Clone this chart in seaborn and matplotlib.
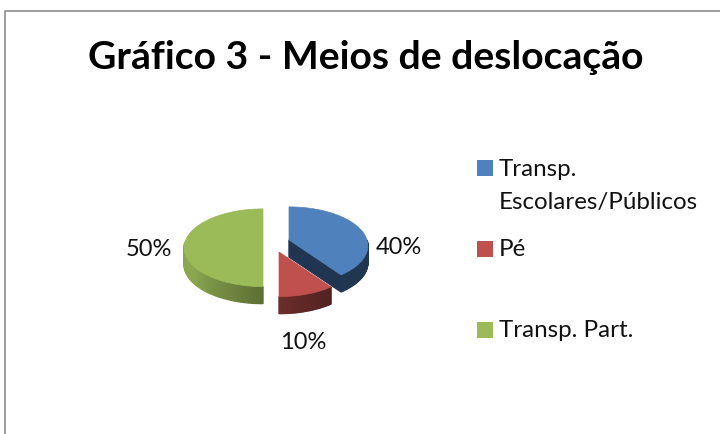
#!/usr/bin/env python3
# Gráfico 3 - pie with fake 3D look, in pixel coordinates of the picture
import numpy as np
import seaborn as sns
import matplotlib.pyplot as plt
from matplotlib.colors import to_rgb

TITLE = "Gráfico 3 - Meios de deslocação"
categories = ["Transp.\nEscolares/Públicos", "Pé", "Transp. Part."]
shares = [40, 10, 50]
share_labels = ["40%", "10%", "50%"]
colors = ["#4f81bd", "#c0504d", "#9bbb59"]

# where each exploded slice sits and where its label goes
centers = [(289, 240), (279, 252), (263, 242)]
label_pos = [(399, 254), (303.5, 349), (149, 256)]
legend_y = [168, 248.5, 329.5]
legend_base = [176, 256, 337]

RX, RY = 78, 38      # pie radii
PERSP = 0.148        # front of the pie looks bigger
DEPTH = 17

sns.set_theme(style="white")
plt.rcParams['font.family'] = ['Lato', 'DejaVu Sans']


def rim(center, theta):
    # theta in degrees, clockwise from 12 o'clock, y pointing down the image
    t = np.radians(theta)
    front = -np.cos(t)
    scale = 1 / (1 - PERSP * front)
    return center[0] + RX * np.sin(t) * scale, center[1] + RY * front * scale


def wall_color(base, amount):
    return tuple(np.array(to_rgb(base)) * amount)


fig, ax = plt.subplots(figsize=(7.2, 4.34), dpi=100)
ax.set_position([0, 0, 1, 1])
ax.set_xlim(0, 720)
ax.set_ylim(434, 0)
ax.axis("off")

# chart frame, only top and left are visible
ax.plot([5, 5, 720], [434, 11, 11], color="#8c8c8c", lw=1.2)

ends = np.cumsum(shares) * 3.6
starts = ends - np.array(shares) * 3.6

for i in range(len(shares)):
    c = centers[i]
    base = colors[i]
    a, b = starts[i], ends[i]

    # inner cut face of the blue slice, seen from the front
    if i == 0:
        x0, y0 = c
        x1, y1 = rim(c, b)
        ax.fill([x0, x1, x1, x0], [y0, y1, y1 + DEPTH, y0 + DEPTH], color="#1f3552", lw=1)

    # outer wall, only the part facing the viewer, in small shaded strips
    lo, hi = max(a, 90), min(b, 270)
    steps = np.linspace(lo, hi, 40)
    for k in range(len(steps) - 1):
        x0, y0 = rim(c, steps[k])
        x1, y1 = rim(c, steps[k + 1])
        f = k / (len(steps) - 2)
        if i == 0:
            col = wall_color(base, 0.42)
        elif i == 1:
            col = wall_color(base, 0.42 + 0.14 * f)
        else:
            col = wall_color(base, 0.60 + 0.30 * min(f * 1.6, 1))
        ax.fill([x0, x1, x1, x0], [y0, y1, y1 + DEPTH, y0 + DEPTH], color=col, lw=1)

    # top face
    th = np.linspace(a, b, 120)
    xs, ys = rim(c, th)
    ax.fill(np.r_[c[0], xs], np.r_[c[1], ys], color=base, lw=0.5)

    ax.text(*label_pos[i], share_labels[i], fontsize=17, color="#111111", ha="center", va="baseline")

    # legend
    ax.scatter(484.5, legend_y[i], marker="s", s=118, color=base, linewidths=0)
    if i == 0:
        ax.text(499, 176, "Transp.", fontsize=17.4, color="#111111", va="baseline")
        ax.text(499, 209, "Escolares/Públicos", fontsize=17.4, color="#111111", va="baseline")
    else:
        ax.text(499, legend_base[i], categories[i], fontsize=17.4, color="#111111", va="baseline")

ax.text(366, 69, TITLE, fontsize=28.2, fontweight="bold", color="black", ha="center", va="baseline")

fig.savefig("out.png", dpi=100)
